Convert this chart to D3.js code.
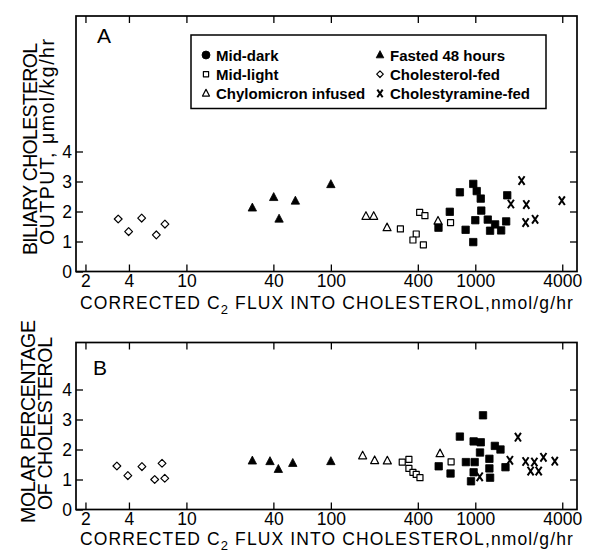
<!DOCTYPE html>
<meta charset="utf-8">
<style>
  body { margin: 0; background: #fff; }
  svg { display: block; font-family: "Liberation Sans", Arial, sans-serif; }
</style>
<svg width="590" height="555"></svg>
<script src="https://d3js.org/d3.v7.min.js"></script>
<script>
// tick values shared by both panels
var xTicks = [2, 4, 10, 40, 100, 400, 1000, 4000]
var yTicks = [0, 1, 2, 3, 4]

// panel A : biliary cholesterol output (flux, umol/kg/hr)
var midDarkA = [[556, 1.46], [666, 1.99], [782, 2.64], [857, 1.39], [968, 2.92], [1023, 2.68],
  [1091, 2.43], [1100, 2.03], [1000, 1.71], [968, 0.98], [1220, 1.73], [1266, 1.36],
  [1372, 1.57], [1510, 1.37], [1664, 2.54], [1636, 1.67]]
var midLightA = [[303, 1.42], [412, 1.97], [448, 1.86], [390, 1.25], [370, 1.05], [437, 0.89], [674, 1.63]]
var chyloA = [[175, 1.84], [198, 1.84], [245, 1.46], [552, 1.68]]
var fastedA = [[28.6, 2.12], [40.2, 2.47], [43.8, 1.75], [56.8, 2.35], [100, 2.9]]
var cholFedA = [[3.37, 1.75], [3.98, 1.33], [4.9, 1.78], [6.19, 1.22], [7.1, 1.58]]
var resinA = [[2092, 3.03], [1764, 2.25], [2256, 2.23], [2230, 1.63], [2594, 1.74], [3974, 2.36]]

// panel B : molar percentage of cholesterol
var midDarkB = [[558, 1.44], [674, 1.2], [782, 2.43], [861, 1.58], [974, 2.27], [1091, 2.24],
  [1078, 1.9], [990, 1.58], [974, 1.24], [934, 0.94], [1131, 3.14], [1252, 1.69],
  [1252, 1.37], [1266, 1.06], [1366, 2.12], [1494, 2.0], [1618, 1.41]]
var midLightB = [[312, 1.58], [347, 1.67], [347, 1.37], [370, 1.24], [390, 1.17], [414, 1.06], [680, 1.59]]
var chyloB = [[166, 1.79], [201, 1.63], [246, 1.62], [570, 1.86]]
var fastedB = [[28.6, 1.62], [37.9, 1.6], [43.3, 1.34], [54.5, 1.54], [100, 1.6]]
var cholFedB = [[3.3, 1.45], [3.93, 1.13], [4.92, 1.43], [6.03, 1.0], [6.78, 1.54], [7.08, 1.04]]
var resinB = [[1073, 1.09], [1736, 1.64], [1974, 2.41], [2230, 1.6], [2564, 1.58], [2964, 1.74],
  [2416, 1.28], [2748, 1.28], [3552, 1.61]]

var legendLabels = ["Mid-dark", "Mid-light", "Chylomicron infused",
  "Fasted 48 hours", "Cholesterol-fed", "Cholestyramine-fed"]
var legendShapes = ["dot", "osquare", "otri", "ftri", "diamond", "x"]

var xTitle = "CORRECTED C|2| FLUX INTO CHOLESTEROL,nmol/g/hr"

var svg = d3.select('svg')
var left = 76, right = 577

var x = d3.scaleLog().domain([1.72, 5060]).range([left, right])

// path for each marker kind, centred on 0,0
function shapePath(kind, s) {
  if (kind === 'fsquare' || kind === 'osquare') return 'M' + -s + ',' + -s + 'h' + 2 * s + 'v' + 2 * s + 'h' + -2 * s + 'Z'
  if (kind === 'ftri' || kind === 'otri') return 'M0,' + (-s * 1.15) + 'L' + s + ',' + (s * 0.75) + 'L' + -s + ',' + (s * 0.75) + 'Z'
  if (kind === 'diamond') return 'M0,' + -s + 'L' + s + ',0L0,' + s + 'L' + -s + ',0Z'
  if (kind === 'x') return 'M' + (-s * 0.7) + ',' + -s + 'L' + (s * 0.7) + ',' + s + 'M' + (s * 0.7) + ',' + -s + 'L' + (-s * 0.7) + ',' + s
  if (kind === 'dot') return d3.symbol(d3.symbolCircle, Math.PI * s * s)()
}

function styleMark(sel, kind) {
  var filled = kind === 'fsquare' || kind === 'ftri' || kind === 'dot'
  sel.attr('fill', filled ? '#000' : (kind === 'x' ? 'none' : '#fff'))
    .attr('stroke', '#000')
    .attr('stroke-width', kind === 'x' ? 2 : (filled ? 0.8 : 1.2))
    .attr('stroke-linejoin', 'round')
}

var markSize = { fsquare: 3.7, osquare: 3, otri: 4, ftri: 4.2, diamond: 3.9, x: 4.3 }

function drawPanel(cfg) {
  var y = d3.scaleLinear().domain([0, cfg.ymax]).range([cfg.zero, cfg.top])
  var g = svg.append('g')

  // ticks point inward on all four sides
  g.append('g').attr('transform', 'translate(0,' + cfg.zero + ')')
    .call(d3.axisBottom(x).tickValues(xTicks).tickFormat(d3.format('d')).tickSize(-7).tickSizeOuter(0).tickPadding(3))
  g.append('g').attr('transform', 'translate(0,' + cfg.top + ')')
    .call(d3.axisTop(x).tickValues(xTicks).tickFormat('').tickSize(-7).tickSizeOuter(0))
  g.append('g').attr('transform', 'translate(' + left + ',0)')
    .call(d3.axisLeft(y).tickValues(yTicks).tickFormat(d3.format('d')).tickSize(-7).tickSizeOuter(0).tickPadding(4))
  g.append('g').attr('transform', 'translate(' + right + ',0)')
    .call(d3.axisRight(y).tickValues(yTicks.slice(1)).tickFormat('').tickSize(-7).tickSizeOuter(0))

  g.selectAll('.domain').remove()
  g.selectAll('.tick line').attr('stroke', '#000').attr('stroke-width', 1.3)
  g.selectAll('.tick text').attr('fill', '#000').attr('font-size', 17.5)
    .attr('font-family', '"Liberation Sans", Arial, sans-serif')

  g.append('rect')
    .attr('x', left).attr('y', cfg.top)
    .attr('width', right - left).attr('height', cfg.zero - cfg.top)
    .attr('fill', 'none').attr('stroke', '#000').attr('stroke-width', 1.7)

  g.append('text').attr('x', cfg.labelX).attr('y', cfg.labelY)
    .attr('font-size', 21).text(cfg.label)

  // y titles, two rotated lines
  cfg.yTitle.forEach(function (t) {
    g.append('text')
      .attr('transform', 'translate(' + t.x + ',' + t.y + ') rotate(-90)')
      .attr('text-anchor', 'middle').attr('font-size', 19.5)
      .attr('textLength', t.len).attr('lengthAdjust', 'spacing')
      .text(t.text)
  })

  // x title with subscript, spaced out to the frame width
  var parts = xTitle.split('|')
  var tt = g.append('text').attr('x', 80).attr('y', cfg.titleY).attr('font-size', 17.5)
  tt.append('tspan').text(parts[0])
  tt.append('tspan').attr('dy', 5).attr('font-size', 13).text(parts[1])
  tt.append('tspan').attr('dy', -5).text(parts[2])
  var w = tt.node().getComputedTextLength()
  var n = xTitle.length - 2
  tt.attr('letter-spacing', (494 - w) / n)

  cfg.series.forEach(function (s) {
    g.append('g').selectAll('path').data(s.data).join('path')
      .attr('d', shapePath(s.kind, markSize[s.kind]))
      .attr('transform', function (d) { return 'translate(' + x(d[0]) + ',' + y(d[1]) + ')' })
      .call(styleMark, s.kind)
  })
}

drawPanel({
  top: 16, zero: 271.5, ymax: (271.5 - 16) / 30,
  label: 'A', labelX: 97, labelY: 43, titleY: 309,
  yTitle: [
    { text: 'BILIARY CHOLESTEROL', x: 37, y: 149, len: 212 },
    { text: 'OUTPUT, \u03bcmol/kg/hr', x: 54, y: 142, len: 206 }
  ],
  series: [
    { kind: 'diamond', data: cholFedA },
    { kind: 'ftri', data: fastedA },
    { kind: 'otri', data: chyloA },
    { kind: 'osquare', data: midLightA },
    { kind: 'fsquare', data: midDarkA },
    { kind: 'x', data: resinA }
  ]
})

drawPanel({
  top: 342.5, zero: 509.5, ymax: (509.5 - 342.5) / 30,
  label: 'B', labelX: 93, labelY: 375, titleY: 545,
  yTitle: [
    { text: 'MOLAR PERCENTAGE', x: 35, y: 421.5, len: 203 },
    { text: 'OF CHOLESTEROL', x: 52, y: 423.5, len: 173 }
  ],
  series: [
    { kind: 'diamond', data: cholFedB },
    { kind: 'ftri', data: fastedB },
    { kind: 'otri', data: chyloB },
    { kind: 'osquare', data: midLightB },
    { kind: 'fsquare', data: midDarkB },
    { kind: 'x', data: resinB }
  ]
})

// legend box in panel A
var legend = svg.append('g')
legend.append('rect').attr('x', 191).attr('y', 35).attr('width', 355).attr('height', 73.5)
  .attr('fill', '#fff').attr('stroke', '#000').attr('stroke-width', 1.5)

var legendSize = { dot: 4, osquare: 2.6, otri: 3.5, ftri: 3.8, diamond: 3.3, x: 3.8 }
legendLabels.forEach(function (lab, i) {
  var col = Math.floor(i / 3), row = i % 3
  var sx = col ? 380 : 206
  var cy = 55 + row * 19.2
  var kind = legendShapes[i]
  legend.append('path')
    .attr('d', shapePath(kind, legendSize[kind]))
    .attr('transform', 'translate(' + sx + ',' + cy + ')')
    .call(styleMark, kind)
  legend.append('text')
    .attr('x', sx + 10).attr('y', cy + 5.5)
    .attr('font-size', 15).attr('font-weight', 'bold')
    .text(lab)
})
</script>
